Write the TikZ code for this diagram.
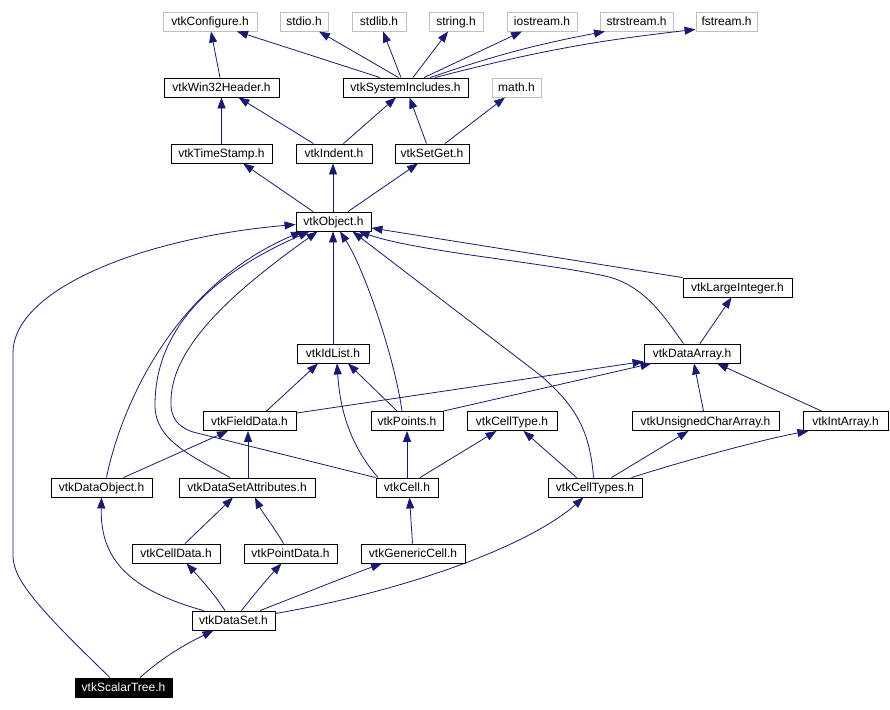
\documentclass[tikz,border=0pt]{standalone}
\usepackage{fontspec}
\setmainfont{Liberation Sans}
\usetikzlibrary{arrows.meta}
\definecolor{edgeblue}{RGB}{25,25,112}
\definecolor{sysgray}{RGB}{191,191,191}
\tikzset{
  hdr/.style={draw=black, line width=0.9pt, inner sep=0pt, minimum height=19pt,
    text height=8.6pt, text depth=0pt,
    font=\fontsize{12}{14}\selectfont, text=black},
  sys/.style={hdr, draw=sysgray},
  cur/.style={hdr, fill=black, text=white},
  dep/.style={draw=edgeblue, line width=0.8pt, -{Triangle[length=11pt,width=8pt]}}
}
\begin{document}
\begin{tikzpicture}[x=1pt,y=-1pt]
\useasboundingbox[fill=white] (0,0) rectangle (890,709);
% nodes
\node[sys, minimum width=94pt] (conf) at (210,21.5) {vtkConfigure.h};
\node[sys, minimum width=48pt] (stdio) at (304,21.5) {stdio.h};
\node[sys, minimum width=54pt] (stdlib) at (379,21.5) {stdlib.h};
\node[sys, minimum width=54pt] (string) at (456,21.5) {string.h};
\node[sys, minimum width=70pt] (iostream) at (542,21.5) {iostream.h};
\node[sys, minimum width=73pt] (strstream) at (636.5,21.5) {strstream.h};
\node[sys, minimum width=61pt] (fstream) at (726.5,21.5) {fstream.h};
\node[hdr, minimum width=115pt] (win32) at (221.5,87.5) {vtkWin32Header.h};
\node[hdr, minimum width=125pt] (sysinc) at (405.5,87.5) {vtkSystemIncludes.h};
\node[sys, minimum width=49pt] (math) at (516.5,87.5) {math.h};
\node[hdr, minimum width=101pt] (timestamp) at (221.5,153.5) {vtkTimeStamp.h};
\node[hdr, minimum width=76pt] (indent) at (334,153.5) {vtkIndent.h};
\node[hdr, minimum width=74pt] (setget) at (432,153.5) {vtkSetGet.h};
\node[hdr, minimum width=75pt] (obj) at (333.5,221.5) {vtkObject.h};
\node[hdr, minimum width=109pt] (largeint) at (737.5,287.5) {vtkLargeInteger.h};
\node[hdr, minimum width=72pt] (idlist) at (333,353.5) {vtkIdList.h};
\node[hdr, minimum width=96pt] (dataarray) at (692,353.5) {vtkDataArray.h};
\node[hdr, minimum width=93pt] (fielddata) at (249.5,421) {vtkFieldData.h};
\node[hdr, minimum width=72pt] (points) at (407,421) {vtkPoints.h};
\node[hdr, minimum width=90pt] (celltype) at (512,421) {vtkCellType.h};
\node[hdr, minimum width=147pt] (uchar) at (705.5,421) {vtkUnsignedCharArray.h};
\node[hdr, minimum width=85pt] (intarray) at (845.5,421) {vtkIntArray.h};
\node[hdr, minimum width=101pt] (dataobject) at (101.5,487.5) {vtkDataObject.h};
\node[hdr, minimum width=136pt] (dsattr) at (247,487.5) {vtkDataSetAttributes.h};
\node[hdr, minimum width=62pt] (cell) at (407,487.5) {vtkCell.h};
\node[hdr, minimum width=94pt] (celltypes) at (595,487.5) {vtkCellTypes.h};
\node[hdr, minimum width=88pt] (celldata) at (176,553.5) {vtkCellData.h};
\node[hdr, minimum width=93pt] (pointdata) at (290.5,553.5) {vtkPointData.h};
\node[hdr, minimum width=104pt] (generic) at (413,553.5) {vtkGenericCell.h};
\node[hdr, minimum width=83pt] (dataset) at (233.5,620.5) {vtkDataSet.h};
\node[cur, minimum width=97pt] (scalartree) at (123.5,687.5) {vtkScalarTree.h};
% top edges
\draw[dep] ([xshift=-1.5pt]win32.north) -- ([xshift=1pt]conf.south);
\draw[dep] ([xshift=-25.5pt]sysinc.north) -- ([xshift=27pt]conf.south);
\draw[dep] ([xshift=-7pt]sysinc.north) -- ([xshift=15pt]stdio.south);
\draw[dep] ([xshift=-4.5pt]sysinc.north) -- ([xshift=4pt]stdlib.south);
\draw[dep] ([xshift=7.5pt]sysinc.north) -- ([xshift=-8pt]string.south);
\draw[dep] ([xshift=18.5pt]sysinc.north) -- ([xshift=-20pt]iostream.south);
\draw[dep] ([xshift=24.5pt]sysinc.north) to[bend left=4] ([xshift=-31.5pt]strstream.south);
\draw[dep] ([xshift=29.5pt]sysinc.north) to[bend left=4] ([yshift=2pt]fstream.south west);
\draw[dep] (timestamp.north) -- (win32.south);
\draw[dep] ([xshift=-20.5pt]indent.north) -- ([xshift=17pt]win32.south);
\draw[dep] ([xshift=9.5pt]indent.north) -- ([xshift=-9.5pt]sysinc.south);
\draw[dep] ([xshift=-5.5pt]setget.north) -- ([xshift=4pt]sysinc.south);
\draw[dep] ([xshift=13pt]setget.north) -- ([xshift=-11.5pt]math.south);
\draw[dep] ([xshift=-20.5pt]obj.north) -- ([xshift=21.5pt]timestamp.south);
\draw[dep] ([xshift=-0.5pt]obj.north) -- ([xshift=-1pt]indent.south);
\draw[dep] ([xshift=14.5pt]obj.north) -- ([xshift=-14pt]setget.south);
% edges into vtkObject
\draw[dep] ([xshift=-13.5pt]scalartree.north) .. controls (40,610) and (13,580) .. (13,556) -- (13,353) .. controls (13,290) and (140,238) .. ([yshift=-3pt]obj.west);
\draw[dep] ([xshift=5pt]dataobject.north) .. controls (118,420) and (165,290) .. ([xshift=-31.5pt]obj.south);
\draw[dep] ([xshift=-17pt]dsattr.north) .. controls (190,455) and (155,440) .. (155,405) .. controls (155,330) and (210,275) .. ([xshift=-24pt]obj.south);
\draw[dep] (cell.north west) -- (193,432) .. controls (178,427) and (170,418) .. (171,400) .. controls (172,340) and (250,280) .. ([xshift=-16pt]obj.south);
\draw[dep] (idlist.north) -- ([xshift=-0.5pt]obj.south);
\draw[dep] ([xshift=-5pt]points.north) .. controls (395,360) and (365,270) .. ([xshift=6.5pt]obj.south);
\draw[dep] ([xshift=-1.5pt]celltypes.north) .. controls (590,430) and (575,405) .. (540,375) -- ([xshift=19pt]obj.south);
\draw[dep] ([xshift=-8.5pt]dataarray.north) .. controls (665,318) and (645,285) .. (605,276) .. controls (540,262) and (420,252) .. ([xshift=25pt]obj.south);
\draw[dep] (largeint.north west) -- ([yshift=-6.5pt]obj.east);
% middle edges
\draw[dep] ([xshift=8pt]dataarray.north) -- ([xshift=-6pt]largeint.south);
\draw[dep] ([xshift=17pt]fielddata.north) -- ([xshift=-15pt]idlist.south);
\draw[dep] ([yshift=-2pt]fielddata.north east) -- ([yshift=2pt]dataarray.south west);
\draw[dep] ([xshift=-10pt]points.north) -- ([xshift=15pt]idlist.south);
\draw[dep] (points.north east) -- ([xshift=8pt]dataarray.south west);
\draw[dep] ([xshift=-29pt]cell.north) .. controls (350,445) and (340,410) .. ([xshift=4pt]idlist.south);
\draw[dep] (cell.north) -- (points.south);
\draw[dep] ([xshift=13pt]cell.north) -- ([xshift=-15.5pt]celltype.south);
\draw[dep] ([xshift=-18.5pt]celltypes.north) -- ([xshift=11.5pt]celltype.south);
\draw[dep] ([xshift=-2pt]uchar.north) -- ([xshift=2pt]dataarray.south);
\draw[dep] ([xshift=-24pt]intarray.north) -- ([xshift=25pt]dataarray.south);
\draw[dep] ([xshift=16.5pt]celltypes.north) -- ([xshift=-17pt]uchar.south);
\draw[dep] ([xshift=36.5pt]celltypes.north) .. controls (680,462) and (760,440) .. ([xshift=-37pt]intarray.south);
\draw[dep] ([xshift=22pt]dataobject.north) -- ([xshift=-21.5pt]fielddata.south);
\draw[dep] ([xshift=1pt]dsattr.north) -- ([xshift=-1.5pt]fielddata.south);
% lower edges
\draw[dep] ([xshift=9pt]celldata.north) -- ([xshift=-14pt]dsattr.south);
\draw[dep] ([xshift=-7pt]pointdata.north) .. controls (276,530) and (262,512) .. ([xshift=8pt]dsattr.south);
\draw[dep] ([xshift=-0.5pt]generic.north) -- ([xshift=2.5pt]cell.south);
\draw[dep] ([xshift=-30pt]dataset.north) .. controls (130,590) and (100,560) .. (dataobject.south);
\draw[dep] ([xshift=-8.5pt]dataset.north) .. controls (215,595) and (200,578) .. ([xshift=10.5pt]celldata.south);
\draw[dep] ([xshift=8pt]dataset.north) .. controls (252,597) and (268,578) .. ([xshift=-9pt]pointdata.south);
\draw[dep] ([xshift=26.5pt]dataset.north) .. controls (300,595) and (350,575) .. ([xshift=-31pt]generic.south);
\draw[dep] ([yshift=7pt]dataset.east) .. controls (410,590) and (530,545) .. ([xshift=-11.5pt]celltypes.south);
\draw[dep] ([xshift=16.5pt]scalartree.north) .. controls (165,655) and (190,642) .. ([xshift=-20pt]dataset.south);
\end{tikzpicture}
\end{document}
